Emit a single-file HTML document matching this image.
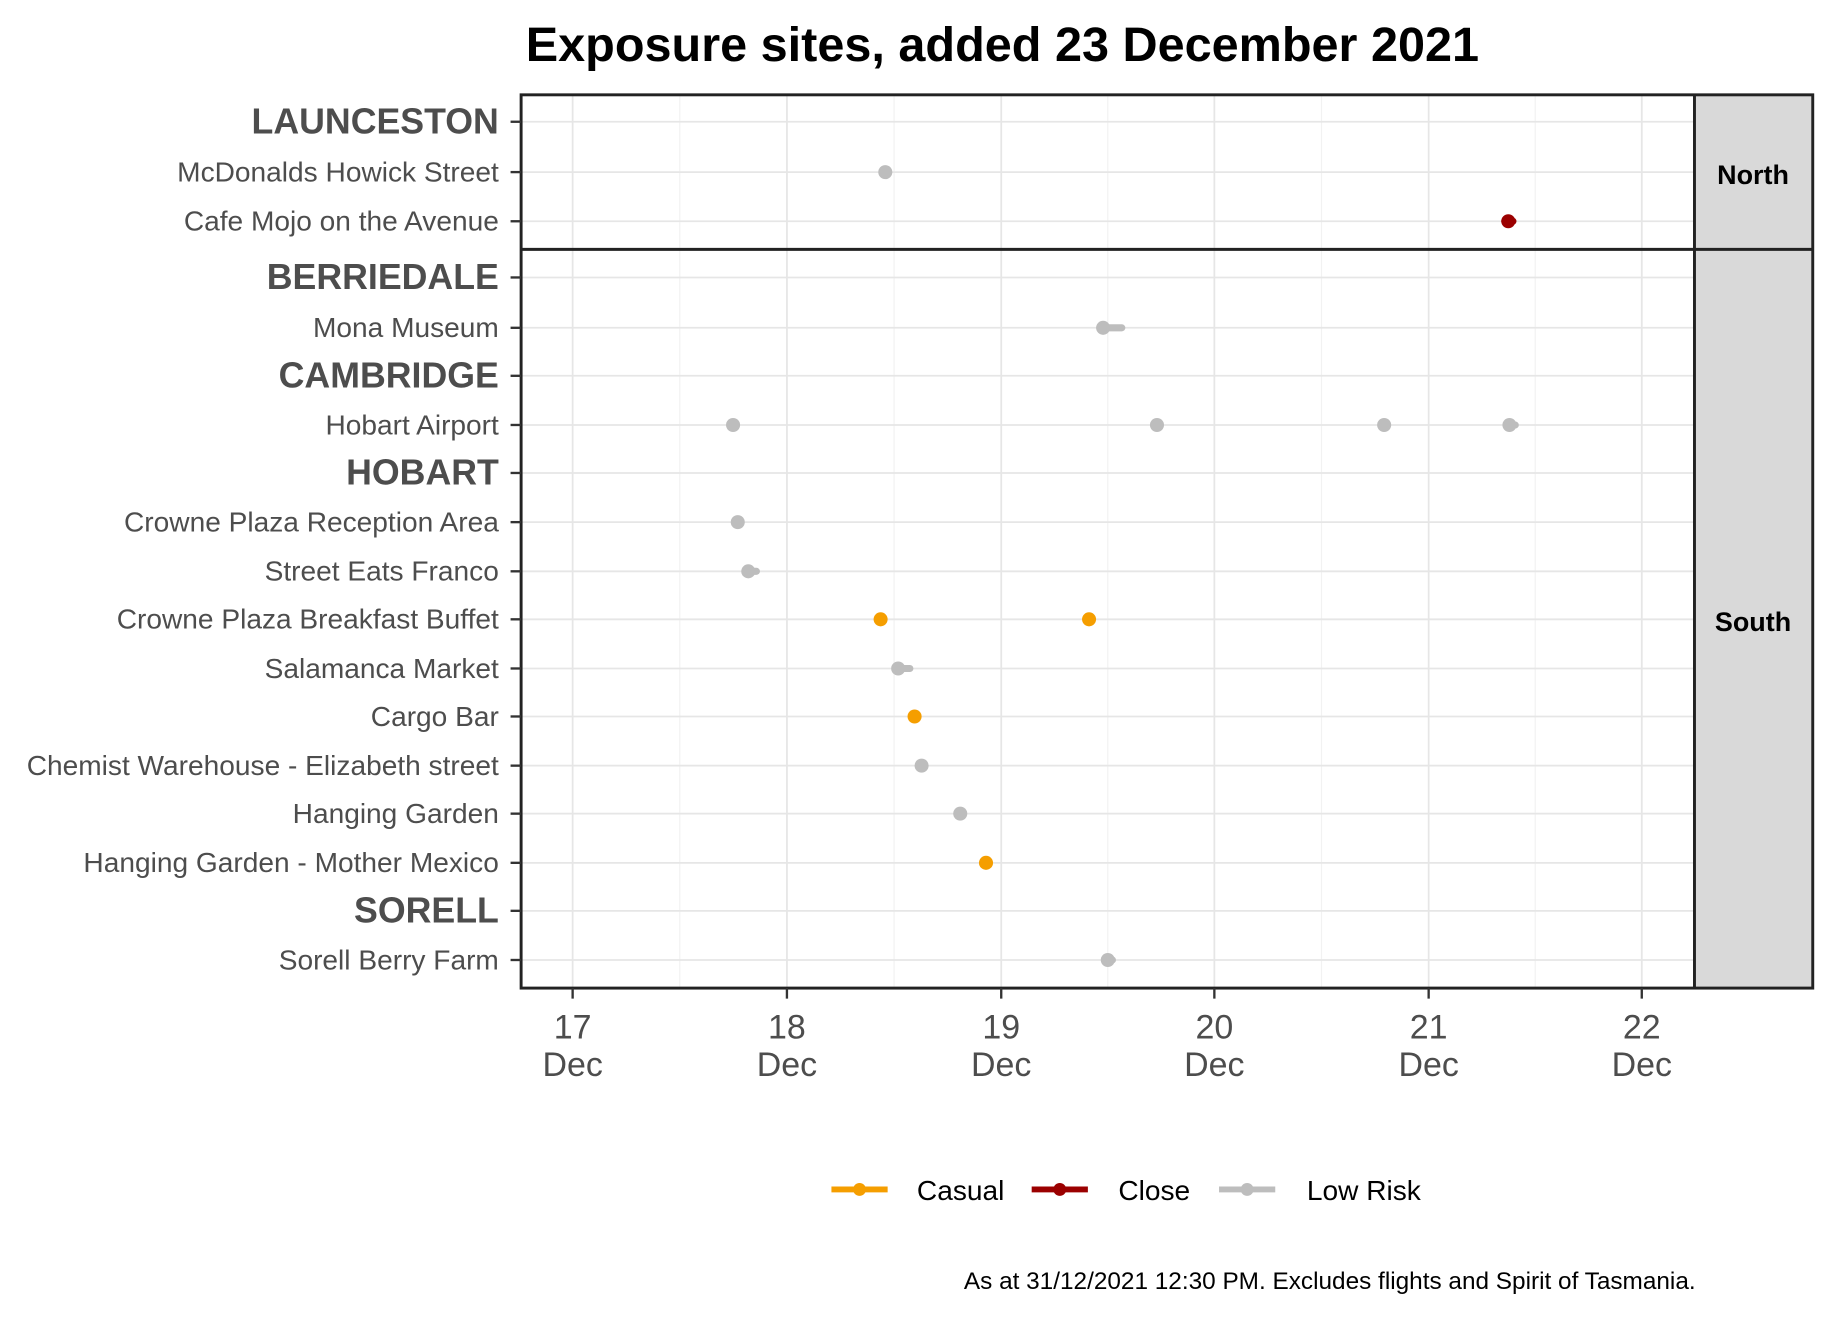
<!DOCTYPE html>
<html><head><meta charset="utf-8"><style>html,body{margin:0;padding:0;background:#fff}svg{display:block}</style></head>
<body>
<svg width="1835" height="1318" viewBox="0 0 1567 1125.8" preserveAspectRatio="none" xmlns="http://www.w3.org/2000/svg" font-family="Liberation Sans, sans-serif">
<text x="856" y="52" text-anchor="middle" font-size="41.5" font-weight="bold" fill="#000">Exposure sites, added 23 December 2021</text>
<g stroke="#f2f2f2" stroke-width="1">
<line x1="580.5" y1="81" x2="580.5" y2="844"/><line x1="763.5" y1="81" x2="763.5" y2="844"/><line x1="946" y1="81" x2="946" y2="844"/><line x1="1128.5" y1="81" x2="1128.5" y2="844"/><line x1="1311" y1="81" x2="1311" y2="844"/>
</g>
<g stroke="#e6e6e6" stroke-width="1.5">
<line x1="489" y1="81" x2="489" y2="844"/><line x1="672" y1="81" x2="672" y2="844"/><line x1="855" y1="81" x2="855" y2="844"/><line x1="1037" y1="81" x2="1037" y2="844"/><line x1="1220" y1="81" x2="1220" y2="844"/><line x1="1402" y1="81" x2="1402" y2="844"/>
<line x1="445" y1="104" x2="1447" y2="104"/><line x1="445" y1="147" x2="1447" y2="147"/><line x1="445" y1="189" x2="1447" y2="189"/>
<line x1="445" y1="237" x2="1447" y2="237"/><line x1="445" y1="280" x2="1447" y2="280"/><line x1="445" y1="321" x2="1447" y2="321"/><line x1="445" y1="363" x2="1447" y2="363"/><line x1="445" y1="404" x2="1447" y2="404"/><line x1="445" y1="446" x2="1447" y2="446"/><line x1="445" y1="488" x2="1447" y2="488"/><line x1="445" y1="529" x2="1447" y2="529"/><line x1="445" y1="571" x2="1447" y2="571"/><line x1="445" y1="612" x2="1447" y2="612"/><line x1="445" y1="654" x2="1447" y2="654"/><line x1="445" y1="695" x2="1447" y2="695"/><line x1="445" y1="737" x2="1447" y2="737"/><line x1="445" y1="778" x2="1447" y2="778"/><line x1="445" y1="820" x2="1447" y2="820"/>
</g>
<rect x="1447" y="81" width="101" height="763" fill="#d9d9d9"/>
<g fill="none" stroke="#222" stroke-width="2.5">
<rect x="445" y="81" width="1103" height="763"/>
<line x1="445" y1="213" x2="1548" y2="213"/><line x1="1447" y1="81" x2="1447" y2="844"/>
</g>
<text x="1497" y="157" text-anchor="middle" font-size="23" font-weight="bold">North</text>
<text x="1497" y="539" text-anchor="middle" font-size="23" font-weight="bold">South</text>
<g stroke="#bdbdbd" stroke-width="6" stroke-linecap="round">
<line x1="942" y1="280" x2="958" y2="280"/><line x1="639" y1="488" x2="646" y2="488"/><line x1="767" y1="571" x2="777" y2="571"/><line x1="1289" y1="363" x2="1294" y2="363"/><line x1="946" y1="820" x2="950" y2="820"/>
</g>
<g fill="#bdbdbd">
<circle cx="756" cy="147" r="6"/><circle cx="942" cy="280" r="6"/><circle cx="626" cy="363" r="6"/><circle cx="988" cy="363" r="6"/><circle cx="1182" cy="363" r="6"/><circle cx="1289" cy="363" r="6"/><circle cx="630" cy="446" r="6"/><circle cx="639" cy="488" r="6"/><circle cx="767" cy="571" r="6"/><circle cx="787" cy="654" r="6"/><circle cx="820" cy="695" r="6"/><circle cx="946" cy="820" r="6"/>
</g>
<g fill="#f59e00"><circle cx="752" cy="529" r="6"/><circle cx="930" cy="529" r="6"/><circle cx="781" cy="612" r="6"/><circle cx="842" cy="737" r="6"/></g>
<line x1="1285" y1="189" x2="1292" y2="189" stroke="#9b0000" stroke-width="6" stroke-linecap="round"/><circle cx="1288" cy="189" r="6" fill="#9b0000"/>
<g stroke="#333" stroke-width="2">
<line x1="436" y1="104" x2="445" y2="104"/><line x1="436" y1="147" x2="445" y2="147"/><line x1="436" y1="189" x2="445" y2="189"/><line x1="436" y1="237" x2="445" y2="237"/><line x1="436" y1="280" x2="445" y2="280"/><line x1="436" y1="321" x2="445" y2="321"/><line x1="436" y1="363" x2="445" y2="363"/><line x1="436" y1="404" x2="445" y2="404"/><line x1="436" y1="446" x2="445" y2="446"/><line x1="436" y1="488" x2="445" y2="488"/><line x1="436" y1="529" x2="445" y2="529"/><line x1="436" y1="571" x2="445" y2="571"/><line x1="436" y1="612" x2="445" y2="612"/><line x1="436" y1="654" x2="445" y2="654"/><line x1="436" y1="695" x2="445" y2="695"/><line x1="436" y1="737" x2="445" y2="737"/><line x1="436" y1="778" x2="445" y2="778"/><line x1="436" y1="820" x2="445" y2="820"/>
<line x1="489" y1="844" x2="489" y2="853"/><line x1="672" y1="844" x2="672" y2="853"/><line x1="855" y1="844" x2="855" y2="853"/><line x1="1037" y1="844" x2="1037" y2="853"/><line x1="1220" y1="844" x2="1220" y2="853"/><line x1="1402" y1="844" x2="1402" y2="853"/>
</g>
<g text-anchor="end" fill="#4d4d4d" font-size="24">
<text x="426" y="155">McDonalds Howick Street</text><text x="426" y="197">Cafe Mojo on the Avenue</text><text x="426" y="288">Mona Museum</text><text x="426" y="371">Hobart Airport</text><text x="426" y="454">Crowne Plaza Reception Area</text><text x="426" y="496">Street Eats Franco</text><text x="426" y="537">Crowne Plaza Breakfast Buffet</text><text x="426" y="579">Salamanca Market</text><text x="426" y="620">Cargo Bar</text><text x="426" y="662">Chemist Warehouse - Elizabeth street</text><text x="426" y="703">Hanging Garden</text><text x="426" y="745">Hanging Garden - Mother Mexico</text><text x="426" y="828">Sorell Berry Farm</text>
</g>
<g text-anchor="end" fill="#4d4d4d" font-size="30.5" font-weight="bold">
<text x="426" y="114">LAUNCESTON</text><text x="426" y="247">BERRIEDALE</text><text x="426" y="331">CAMBRIDGE</text><text x="426" y="414">HOBART</text><text x="426" y="788">SORELL</text>
</g>
<g text-anchor="middle" fill="#4d4d4d" font-size="29">
<text x="489" y="887">17</text><text x="489" y="919">Dec</text><text x="672" y="887">18</text><text x="672" y="919">Dec</text><text x="855" y="887">19</text><text x="855" y="919">Dec</text><text x="1037" y="887">20</text><text x="1037" y="919">Dec</text><text x="1220" y="887">21</text><text x="1220" y="919">Dec</text><text x="1402" y="887">22</text><text x="1402" y="919">Dec</text>
</g>
<line x1="710" y1="1016" x2="758" y2="1016" stroke="#f59e00" stroke-width="5"/><circle cx="734" cy="1016" r="5.5" fill="#f59e00"/>
<line x1="881" y1="1016" x2="929" y2="1016" stroke="#9b0000" stroke-width="5"/><circle cx="905" cy="1016" r="5.5" fill="#9b0000"/>
<line x1="1041" y1="1016" x2="1089" y2="1016" stroke="#bdbdbd" stroke-width="5"/><circle cx="1065" cy="1016" r="5.5" fill="#bdbdbd"/>
<g font-size="24" fill="#000"><text x="783" y="1025">Casual</text><text x="955" y="1025">Close</text><text x="1116" y="1025">Low Risk</text></g>
<text x="1448" y="1101" text-anchor="end" font-size="20.8" fill="#000">As at 31/12/2021 12:30 PM. Excludes flights and Spirit of Tasmania.</text>
</svg>
</body></html>
